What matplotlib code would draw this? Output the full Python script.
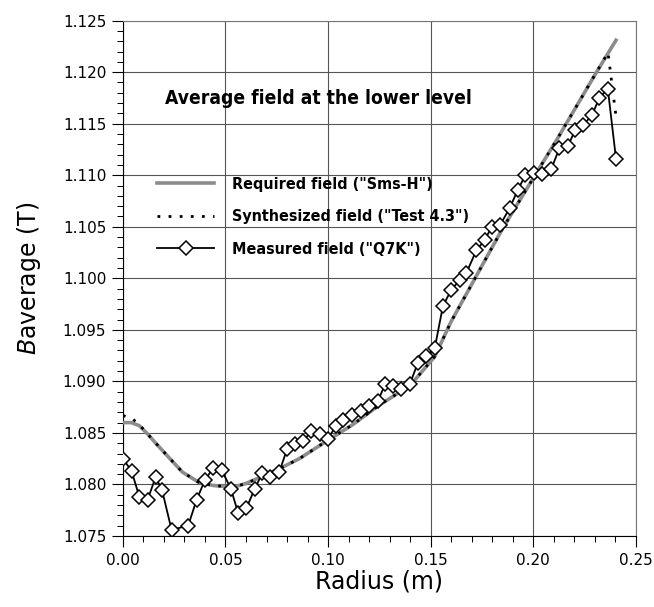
import matplotlib
matplotlib.use("Agg")
import matplotlib.pyplot as plt
from matplotlib.ticker import MultipleLocator, FormatStrFormatter

# Measured field ("Q7K")
meas_r = [0.000, 0.0042, 0.0080, 0.0120, 0.0159, 0.0190, 0.0237, 0.0318, 0.0359,
          0.0399, 0.0440, 0.0481, 0.0526, 0.0562, 0.0602, 0.0643, 0.0680, 0.0719,
          0.0762, 0.0800, 0.0840, 0.0880, 0.0919, 0.0959, 0.1000, 0.1038, 0.1075,
          0.1116, 0.1160, 0.1200, 0.1243, 0.1278, 0.1318, 0.1357, 0.1398, 0.1438,
          0.1479, 0.1520, 0.1560, 0.1601, 0.1641, 0.1674, 0.1723, 0.1763, 0.1799,
          0.1840, 0.1885, 0.1926, 0.1962, 0.2003, 0.2045, 0.2088, 0.2128, 0.2168,
          0.2206, 0.2245, 0.2286, 0.2323, 0.2364, 0.2404]
meas_b = [1.0825, 1.0813, 1.0788, 1.0785, 1.0807, 1.0795, 1.0756, 1.0760, 1.0785,
          1.0804, 1.0816, 1.0814, 1.0796, 1.0772, 1.0777, 1.0796, 1.0811, 1.0807,
          1.0812, 1.0834, 1.0839, 1.0842, 1.0852, 1.0849, 1.0844, 1.0857, 1.0863,
          1.0867, 1.0871, 1.0876, 1.0881, 1.0897, 1.0896, 1.0893, 1.0897, 1.0918,
          1.0925, 1.0932, 1.0973, 1.0989, 1.0998, 1.1005, 1.1027, 1.1037, 1.1050,
          1.1052, 1.1068, 1.1086, 1.1100, 1.1102, 1.1101, 1.1106, 1.1126, 1.1128,
          1.1144, 1.1149, 1.1158, 1.1175, 1.1184, 1.1116]

# Required field ("Sms-H")
req_r = [0.000, 0.004, 0.008, 0.012, 0.016, 0.022, 0.029, 0.037, 0.044, 0.050,
         0.055, 0.060, 0.067, 0.075, 0.086, 0.100, 0.112, 0.125, 0.140, 0.146,
         0.152, 0.160, 0.170, 0.185, 0.200, 0.212, 0.230, 0.2404]
req_b = [1.0860, 1.0860, 1.0857, 1.0849, 1.0840, 1.0827, 1.0812, 1.0802, 1.0799, 1.0798,
         1.0798, 1.0801, 1.0807, 1.0814, 1.0825, 1.0843, 1.0858, 1.0877, 1.0896, 1.0910,
         1.0924, 1.0958, 1.0994, 1.1048, 1.1097, 1.1136, 1.1197, 1.1231]

# Synthesized field ("Test 4.3")
syn_r = [0.000, 0.005, 0.008, 0.012, 0.016, 0.022, 0.029, 0.037, 0.044, 0.050,
         0.055, 0.060, 0.067, 0.075, 0.086, 0.100, 0.112, 0.125, 0.140, 0.146,
         0.152, 0.160, 0.170, 0.185, 0.200, 0.212, 0.230, 0.2365, 0.2380, 0.2404]
syn_b = [1.0867, 1.0863, 1.0858, 1.0849, 1.0840, 1.0827, 1.0812, 1.0802, 1.0799, 1.0798,
         1.0798, 1.0801, 1.0807, 1.0814, 1.0825, 1.0843, 1.0858, 1.0877, 1.0896, 1.0910,
         1.0924, 1.0958, 1.0994, 1.1048, 1.1097, 1.1136, 1.1197, 1.1219, 1.1195, 1.1157]

fig = plt.figure(figsize=(6.54, 6.07), dpi=100)
ax = fig.add_axes([0.188, 0.117, 0.784, 0.849])

ax.plot(req_r, req_b, color='#8c8c8c', lw=2.6, label='Required field ("Sms-H")', zorder=3)
ax.plot(syn_r, syn_b, color='black', lw=2.0, linestyle=(0, (1, 3)),
        label='Synthesized field ("Test 4.3")', zorder=4)
ax.plot(meas_r, meas_b, color='black', lw=1.3, marker='D', markersize=7.5,
        markerfacecolor='white', markeredgecolor='black', markeredgewidth=1.1,
        label='Measured field ("Q7K")', zorder=5)

ax.set_xlim(0, 0.25)
ax.set_ylim(1.075, 1.125)
ax.xaxis.set_major_locator(MultipleLocator(0.05))
ax.xaxis.set_minor_locator(MultipleLocator(0.01))
ax.yaxis.set_major_locator(MultipleLocator(0.005))
ax.yaxis.set_minor_locator(MultipleLocator(0.001))
ax.xaxis.set_major_formatter(FormatStrFormatter('%.2f'))
ax.yaxis.set_major_formatter(FormatStrFormatter('%.3f'))
ax.tick_params(which='major', direction='out', length=8, width=0.8, labelsize=11, pad=4)
ax.tick_params(which='minor', direction='out', length=4, width=0.7)
ax.grid(True, which='major', color='#555555', lw=0.8)
for side in ['top', 'right']:
    ax.spines[side].set_color('#777777')
    ax.spines[side].set_linewidth(0.8)

ax.set_xlabel('Radius (m)', fontsize=17, labelpad=1)
ax.set_ylabel(r'$B$average (T)', fontsize=17, labelpad=14)

ax.text(0.0205, 1.1174, 'Average field at the lower level', fontsize=13.8,
        fontweight='bold', fontstretch='condensed', va='center')

leg = ax.legend(loc='upper left', bbox_to_anchor=(0.066, 0.697), frameon=False,
                borderpad=0, borderaxespad=0,
                handlelength=3.6, handletextpad=1.1, labelspacing=1.1,
                prop={'weight': 'bold', 'size': 11.5, 'stretch': 'condensed'})

fig.savefig('out.png', dpi=100)
